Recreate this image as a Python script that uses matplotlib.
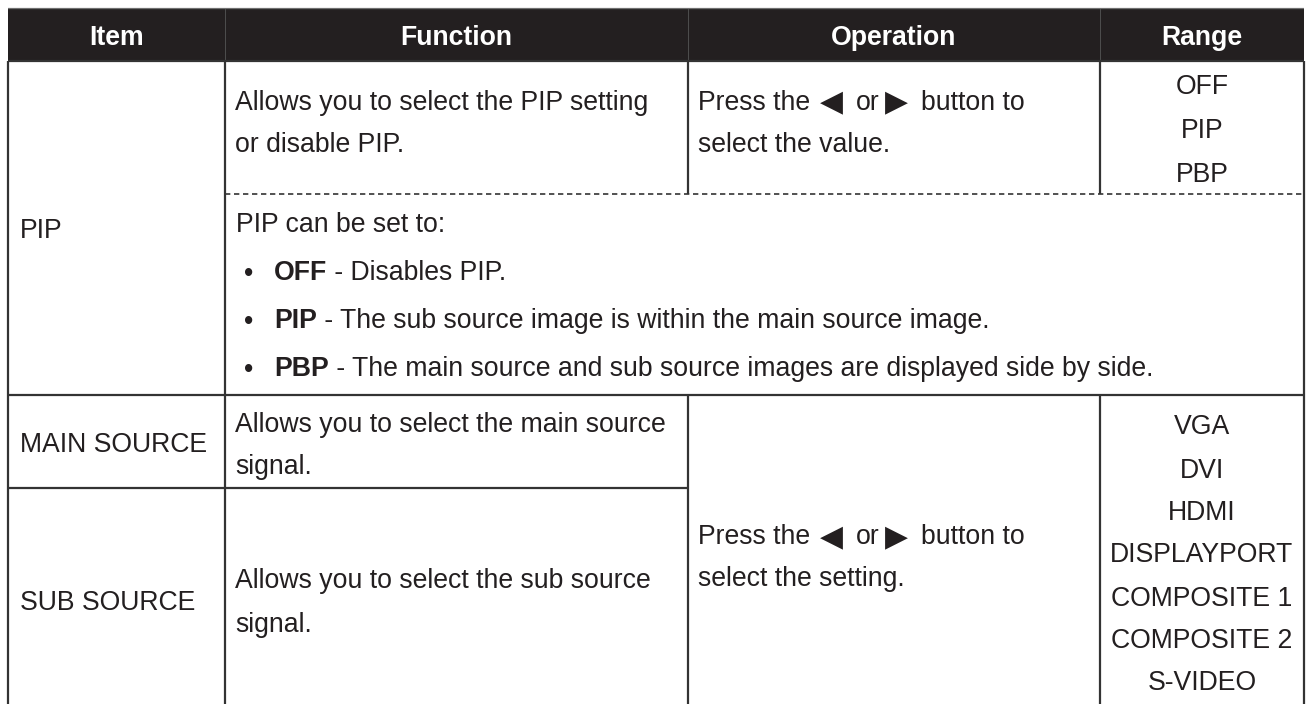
import matplotlib.pyplot as plt

# =========================
# TABLE CONTENT
# =========================

HEADERS = ["Item", "Function", "Operation", "Range"]

ITEMS = ["PIP", "MAIN SOURCE", "SUB SOURCE"]

PIP_FUNCTION = ["Allows you to select the PIP setting", "or disable PIP."]
PIP_RANGE = ["OFF", "PIP", "PBP"]

# operation text: first line is split around the arrow glyphs
PRESS_LINE = ["Press the", "\u25C0", "or", "\u25B6", "button to"]
PIP_OP_END = "select the value."
SOURCE_OP_END = "select the setting."

PIP_NOTE = "PIP can be set to:"
PIP_BULLETS = [
    ("OFF", " - Disables PIP."),
    ("PIP", " - The sub source image is within the main source image."),
    ("PBP", " - The main source and sub source images are displayed side by side."),
]

MAIN_FUNCTION = ["Allows you to select the main source", "signal."]
SUB_FUNCTION = ["Allows you to select the sub source", "signal."]
SOURCE_RANGE = ["VGA", "DVI", "HDMI", "DISPLAYPORT", "COMPOSITE 1", "COMPOSITE 2", "S-VIDEO"]


# =========================
# LAYOUT (pixels)
# =========================

W, H = 1309, 704
X_LEFT, X_C1, X_C2, X_C3, X_RIGHT = 8, 225, 688, 1100, 1304
Y_TOP, Y_HEAD, Y_DASH, Y_MAIN, Y_SUB = 9, 61, 194, 395, 488

# x of each piece of the "Press the ..." line, relative to the column text start
PRESS_DX = [0, 133.5, 158, 198.5, 223]
PRESS_HA = ["left", "center", "left", "center", "left"]

FS = 19.2
FAMILY = ["Liberation Sans", "DejaVu Sans"]
TXT = "#231f20"
LINE = "#333333"
LW = 1.6

plt.rcParams["font.family"] = FAMILY

fig = plt.figure(figsize=(W / 100, H / 100), dpi=100)
ax = fig.add_axes([0, 0, 1, 1])
ax.set_xlim(0, W)
ax.set_ylim(H, 0)
ax.axis("off")


def line(x0, x1, y0, y1, **kw):
    ax.plot([x0, x1], [y0, y1], color=LINE, lw=LW, solid_capstyle="butt", **kw)


def put(x, y, s, ha="left", **kw):
    kw.setdefault("fontsize", FS)
    return ax.text(x, y, s, ha=ha, va="baseline", color=TXT, **kw)


def press_line(x, y):
    for dx, ha, s in zip(PRESS_DX, PRESS_HA, PRESS_LINE):
        if s in ("\u25C0", "\u25B6"):
            put(x + dx, y + 1, s, ha=ha, fontsize=FS * 1.12, family="DejaVu Sans")
        else:
            put(x + dx, y, s, ha=ha)


# header band
ax.fill_between([X_LEFT, X_RIGHT], Y_TOP, Y_HEAD, color="#231f20", lw=0)
line(X_LEFT, X_RIGHT, Y_TOP, Y_TOP, alpha=0.7)
for xc in [X_C1, X_C2, X_C3]:
    ax.plot([xc, xc], [Y_TOP, Y_HEAD], color="#555555", lw=0.6)
head_centers = [(X_LEFT + X_C1) / 2, (X_C1 + X_C2) / 2, (X_C2 + X_C3) / 2, (X_C3 + X_RIGHT) / 2]
for xc, h in zip(head_centers, HEADERS):
    ax.text(xc, 45, h, ha="center", va="baseline", fontsize=FS,
            fontweight="bold", color="white")

# grid lines
line(X_LEFT, X_LEFT, Y_HEAD, H)
line(X_RIGHT, X_RIGHT, Y_HEAD, H)
line(X_C1, X_C1, Y_HEAD, H)
line(X_C2, X_C2, Y_HEAD, Y_DASH)
line(X_C3, X_C3, Y_HEAD, Y_DASH)
line(X_C2, X_C2, Y_MAIN, H)
line(X_C3, X_C3, Y_MAIN, H)
line(X_LEFT, X_RIGHT, Y_HEAD, Y_HEAD)
line(X_LEFT, X_RIGHT, Y_MAIN, Y_MAIN)
line(X_LEFT, X_C2, Y_SUB, Y_SUB)
ax.plot([X_C1, X_RIGHT], [Y_DASH, Y_DASH], color=LINE, lw=1.2,
        linestyle=(0, (3.2, 2.2)))

# PIP row
put(20, 237.5, ITEMS[0])
for y, s in zip([109.5, 152.5], PIP_FUNCTION):
    put(235, y, s)
press_line(698, 109.5)
put(698, 152.5, PIP_OP_END)
rng_x = (X_C3 + X_RIGHT) / 2
for y, s in zip([94.5, 137.5, 181.5], PIP_RANGE):
    put(rng_x, y, s, ha="center")

put(236, 231.5, PIP_NOTE)
for y, (bold, rest) in zip([280.5, 328.5, 376.5], PIP_BULLETS):
    put(244, y, "\u2022")
    b = put(274, y, bold, fontweight="bold")
    ax.annotate(rest, xy=(1, 0), xycoords=b, ha="left", va="bottom",
                fontsize=FS, color=TXT)

# source rows
put(20, 451.5, ITEMS[1])
put(20, 609.5, ITEMS[2])
for y, s in zip([431.5, 474.5], MAIN_FUNCTION):
    put(235, y, s)
for y, s in zip([587.5, 631.5], SUB_FUNCTION):
    put(235, y, s)
press_line(698, 544.5)
put(698, 586.5, SOURCE_OP_END)
for y, s in zip([434.5, 478.5, 520.5, 562.5, 605.5, 648.5, 690.5], SOURCE_RANGE):
    put(rng_x, y, s, ha="center")

fig.savefig("out.png", dpi=100)
